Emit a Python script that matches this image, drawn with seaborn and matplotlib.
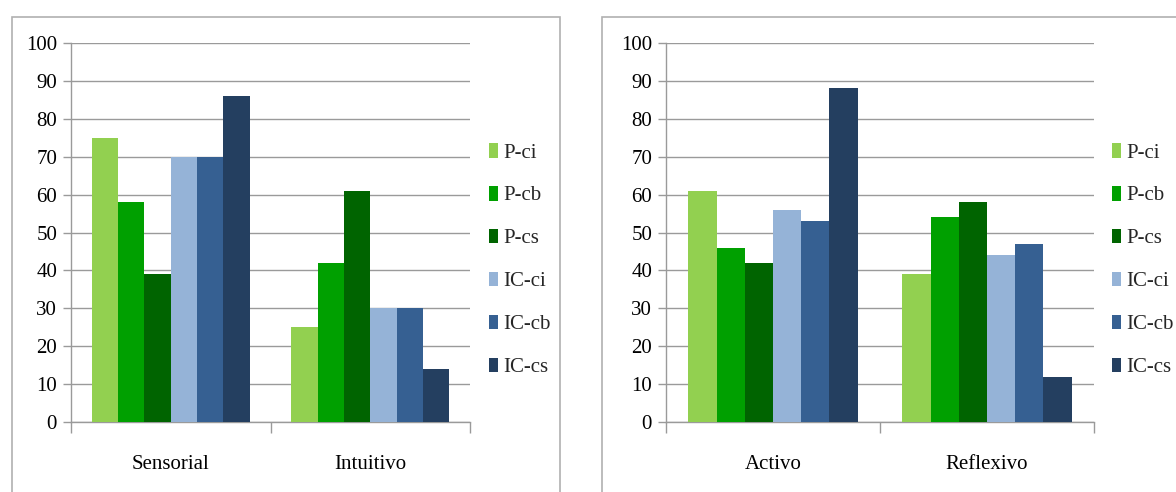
import matplotlib
matplotlib.use("Agg")
import matplotlib.pyplot as plt
import seaborn as sns
import pandas as pd
from matplotlib.patches import Rectangle

# Series shown in both panels
series = ["P-ci", "P-cb", "P-cs", "IC-ci", "IC-cb", "IC-cs"]
colors = ["#92D050", "#00A000", "#006400", "#95B3D7", "#366092", "#243F60"]

# Panel 1: Sensorial vs Intuitivo
cats_left = ["Sensorial", "Intuitivo"]
sensorial = [75, 58, 39, 70, 70, 86]
intuitivo = [25, 42, 61, 30, 30, 14]

# Panel 2: Activo vs Reflexivo
cats_right = ["Activo", "Reflexivo"]
activo = [61, 46, 42, 56, 53, 88]
reflexivo = [39, 54, 58, 44, 47, 12]

yticks = list(range(0, 101, 10))

sns.set_theme(style="white")
plt.rcParams["font.family"] = ["Liberation Serif", "DejaVu Serif"]

FS = 15
W, H = 1176, 492
fig = plt.figure(figsize=(W / 100, H / 100), dpi=100)
fig.patch.set_facecolor("white")

def px_box(x0, y0, x1, y1):
    return [x0 / W, 1 - y1 / H, (x1 - x0) / W, (y1 - y0) / H]

# Chart-area frames
for (x0, y0, x1, y1) in [(12, 17, 560, 500), (602, 17, 1180, 500)]:
    fig.add_artist(Rectangle((x0 / W, 1 - y1 / H), (x1 - x0) / W, (y1 - y0) / H,
                             transform=fig.transFigure, fill=False,
                             edgecolor="#b0b0b0", linewidth=1.2, zorder=0))

def long_frame(cats, groups):
    rows = []
    for c, vals in zip(cats, groups):
        for s, v in zip(series, vals):
            rows.append({"cat": c, "series": s, "value": v})
    return pd.DataFrame(rows)

def draw_panel(rect, cats, groups, legend_xy):
    ax = fig.add_axes(rect)
    df = long_frame(cats, groups)
    sns.barplot(data=df, x="cat", y="value", hue="series", hue_order=series,
                palette=colors, saturation=1, width=0.79, linewidth=0,
                errorbar=None, ax=ax, legend=True, zorder=3)
    ax.set_ylim(0, 100)
    ax.set_xlim(-0.5, len(cats) - 0.5)
    ax.set_yticks(yticks)
    ax.set_yticklabels([str(t) for t in yticks], fontsize=FS)
    ax.set_xticks(range(len(cats)))
    ax.set_xticklabels(cats, fontsize=FS)
    ax.set_xticks([i - 0.5 for i in range(len(cats) + 1)], minor=True)
    ax.set_xlabel("")
    ax.set_ylabel("")
    ax.yaxis.grid(True, color="#9a9a9a", linewidth=1.0, zorder=0)
    ax.set_axisbelow(True)
    for s in ["top", "right"]:
        ax.spines[s].set_visible(False)
    for s in ["left", "bottom"]:
        ax.spines[s].set_color("#9a9a9a")
        ax.spines[s].set_linewidth(1.0)
    ax.tick_params(axis="y", which="major", left=True, length=6, width=1,
                   color="#9a9a9a", pad=4, labelcolor="black")
    ax.tick_params(axis="x", which="major", bottom=False, pad=18, labelcolor="black")
    ax.tick_params(axis="x", which="minor", bottom=True, length=8, width=1,
                   color="#9a9a9a")
    ax.set_facecolor("white")
    handles, labels = ax.get_legend_handles_labels()
    ax.legend_.remove()
    fig.legend(handles, labels, loc="upper left",
               bbox_to_anchor=(legend_xy[0] / W, 1 - legend_xy[1] / H),
               frameon=False, fontsize=FS, handlelength=0.45, handleheight=0.7,
               handletextpad=0.25, labelspacing=1.12, borderpad=0, borderaxespad=0)
    return ax

draw_panel(px_box(71, 43, 470, 422), cats_left, [sensorial, intuitivo], (489, 143))
draw_panel(px_box(666, 43, 1094, 422), cats_right, [activo, reflexivo], (1112, 143))

fig.savefig("out.png", dpi=100, facecolor="white")
